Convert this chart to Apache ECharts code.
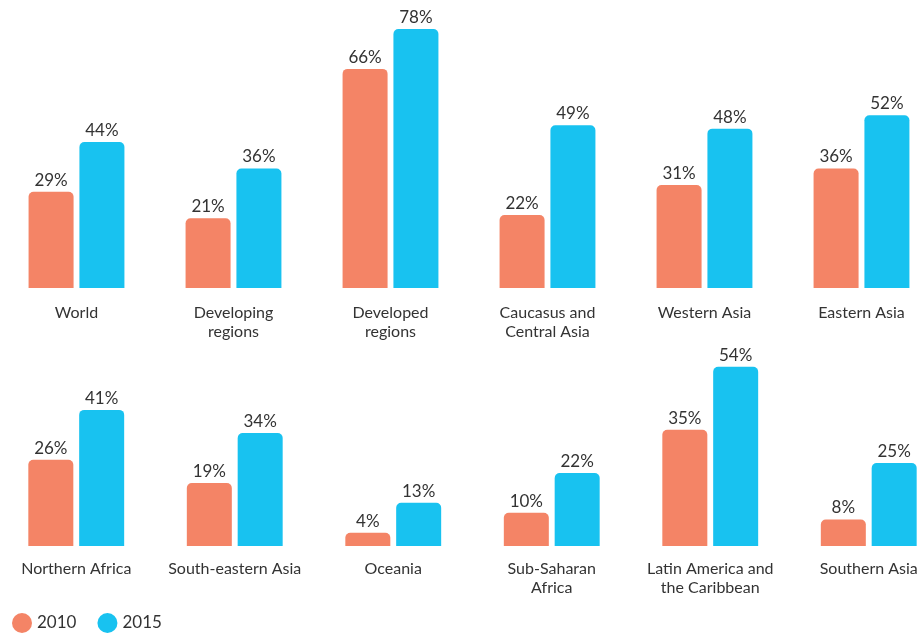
<!DOCTYPE html>
<html>
<head>
<meta charset="utf-8">
<script src="https://cdn.jsdelivr.net/npm/echarts@6/dist/echarts.min.js"></script>
<style>
  html, body { margin: 0; padding: 0; background: #fff; }
  #chart { width: 921px; height: 637px; }
</style>
</head>
<body>
<div id="chart"></div>
<script>
// Regions shown in the upper row
const regionsTop = ['World', 'Developing\nregions', 'Developed\nregions', 'Caucasus and\nCentral Asia', 'Western Asia', 'Eastern Asia'];
const top2010 = [29, 21, 66, 22, 31, 36];
const top2015 = [44, 36, 78, 49, 48, 52];

// Regions shown in the lower row
const regionsBottom = ['Northern Africa', 'South-eastern Asia', 'Oceania', 'Sub-Saharan\nAfrica', 'Latin America and\nthe Caribbean', 'Southern Asia'];
const bottom2010 = [26, 19, 4, 10, 35, 8];
const bottom2015 = [41, 34, 13, 22, 54, 25];

const years = ['2010', '2015'];
const colors = ['#F48466', '#18C2F0'];
const FONT = 'Lato, "Open Sans", sans-serif';
const TEXT = '#333333';

function barSeries(name, data, idx, color) {
  return {
    name: name,
    type: 'bar',
    xAxisIndex: idx,
    yAxisIndex: idx,
    data: data,
    barWidth: 45,
    barGap: '13%',
    itemStyle: { color: color, borderRadius: [5, 5, 0, 0] },
    label: {
      show: true,
      position: 'top',
      distance: 3,
      formatter: '{c}%',
      color: TEXT,
      fontFamily: FONT,
      fontSize: 17
    }
  };
}

function catAxis(idx, cats, margin) {
  return {
    type: 'category',
    gridIndex: idx,
    data: cats,
    axisLine: { show: false },
    axisTick: { show: false },
    axisLabel: {
      color: TEXT,
      fontFamily: FONT,
      fontSize: 16,
      lineHeight: 19,
      margin: margin,
      interval: 0
    }
  };
}

function valAxis(idx) {
  return {
    type: 'value',
    gridIndex: idx,
    min: 0,
    max: 80,
    show: false
  };
}

const chart = echarts.init(document.getElementById('chart'), null, { renderer: 'canvas' });
chart.setOption({
  backgroundColor: '#ffffff',
  animation: false,
  color: colors,
  legend: {
    data: years,
    left: 12,
    top: 613,
    padding: 0,
    icon: 'circle',
    itemWidth: 20,
    itemHeight: 20,
    itemGap: 21,
    textStyle: { color: TEXT, fontFamily: FONT, fontSize: 17 }
  },
  grid: [
    { left: -2, width: 942, top: 22.4, height: 265.6, containLabel: false, outerBoundsMode: 'none' },
    { left: -3, width: 951, top: 280.4, height: 265.6, containLabel: false, outerBoundsMode: 'none' }
  ],
  xAxis: [catAxis(0, regionsTop, 15), catAxis(1, regionsBottom, 13)],
  yAxis: [valAxis(0), valAxis(1)],
  series: [
    barSeries(years[0], top2010, 0, colors[0]),
    barSeries(years[1], top2015, 0, colors[1]),
    barSeries(years[0], bottom2010, 1, colors[0]),
    barSeries(years[1], bottom2015, 1, colors[1])
  ]
});
</script>
</body>
</html>
